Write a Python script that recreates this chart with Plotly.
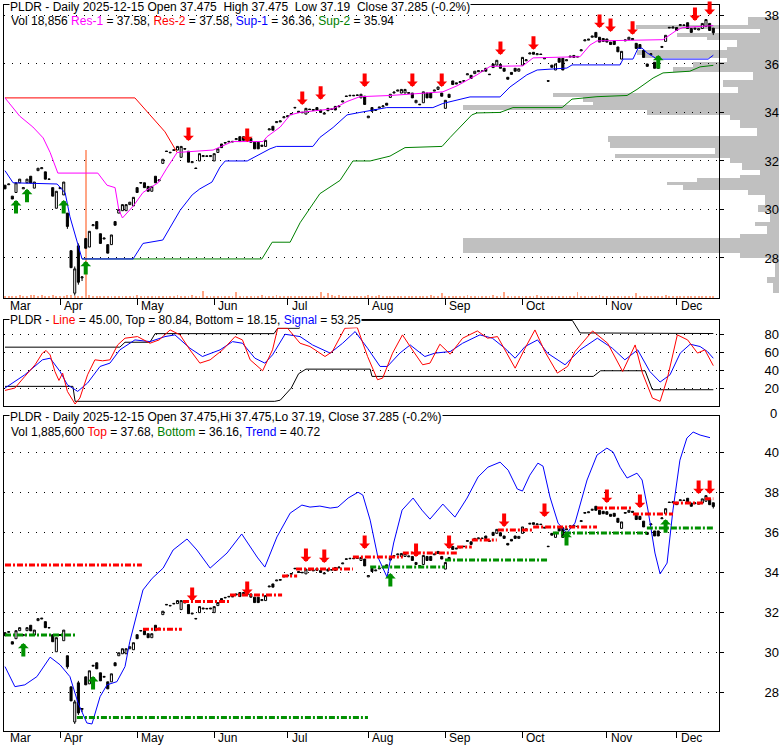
import plotly.graph_objects as go
import pandas as pd

# ---------------- data ----------------
holidays = ["2025-04-18", "2025-05-26", "2025-06-19", "2025-07-04", "2025-09-01", "2025-11-27"]
dates = [d for d in pd.bdate_range("2025-03-11", "2025-12-15") if d.strftime("%Y-%m-%d") not in holidays]
n = len(dates)
idx = list(range(n))
month_names = ["Mar", "Apr", "May", "Jun", "Jul", "Aug", "Sep", "Oct", "Nov", "Dec"]

opens = [
    31.00, 31.02, 30.55, 30.70, 31.10, 30.85, 31.10, 31.37, 30.88, 31.60,
    31.68, 31.55, 31.26, 30.90, 30.05, 30.86, 30.60, 29.85, 28.30, 26.55,
    28.50, 27.18, 28.80, 28.45, 29.33, 29.50, 29.00, 28.78, 28.55, 28.55,
    29.50, 29.85, 29.95, 29.95, 30.20, 30.15, 30.90, 31.11, 31.10, 30.95,
    30.75, 31.37, 31.18, 31.90, 32.41, 32.36, 32.46, 32.45, 32.15, 32.51,
    32.40, 31.93, 31.71, 32.00, 32.18, 32.21, 32.18, 32.00, 32.35, 32.70,
    32.76, 32.81, 32.81, 32.88, 33.00, 33.00, 32.95, 32.93, 32.77, 32.77,
    32.60, 32.60, 33.28, 33.43, 33.58, 33.61, 33.78, 33.82, 33.91, 34.21,
    34.05, 34.01, 33.93, 34.14, 34.08, 34.20, 34.10, 33.93, 34.17, 34.12,
    34.25, 34.23, 34.43, 34.68, 34.71, 34.71, 34.70, 34.60, 34.67, 33.78,
    34.20, 34.08, 34.18, 34.23, 34.38, 34.62, 34.80, 34.88, 34.80, 34.80,
    34.78, 34.80, 34.40, 34.34, 34.40, 34.80, 34.80, 34.88, 34.95, 34.80,
    34.17, 34.75, 35.30, 35.22, 35.23, 35.31, 35.55, 35.53, 35.60, 35.68,
    35.69, 35.82, 35.58, 36.00, 35.95, 35.98, 35.82, 35.45, 35.65, 35.82,
    35.70, 35.95, 36.13, 36.41, 36.48, 36.38, 36.41, 36.21, 35.31, 35.95,
    35.75, 36.23, 36.23, 36.13, 36.28, 36.35, 36.31, 36.54, 36.95, 36.98,
    37.10, 37.30, 37.10, 37.05, 37.03, 36.90, 36.95, 36.70, 36.20, 36.95,
    37.00, 37.05, 36.85, 36.80, 36.56, 36.00, 36.38, 36.07, 36.07, 36.68,
    36.93, 37.51, 37.48, 37.50, 37.58, 37.61, 37.70, 37.46, 37.43, 37.40,
    37.46, 37.55, 37.67, 37.475]
closes = [
    30.85, 31.05, 30.43, 31.10, 31.25, 30.90, 31.25, 31.09, 31.13, 31.70,
    31.72, 31.25, 31.24, 30.55, 30.75, 30.90, 31.13, 29.30, 27.60, 27.55,
    27.00, 27.22, 28.40, 29.10, 29.37, 29.20, 28.60, 28.82, 28.20, 28.95,
    29.35, 30.00, 30.20, 30.20, 30.30, 30.50, 30.70, 31.09, 30.90, 30.75,
    30.95, 31.10, 31.22, 32.07, 32.39, 32.34, 32.44, 32.60, 32.60, 32.49,
    31.95, 31.97, 31.69, 32.30, 32.22, 32.19, 32.22, 32.30, 32.50, 32.55,
    32.74, 32.79, 32.79, 32.92, 32.80, 32.85, 32.90, 32.77, 32.50, 32.50,
    32.65, 32.85, 33.32, 33.27, 33.62, 33.65, 33.82, 33.86, 33.95, 34.19,
    34.00, 33.99, 34.17, 34.12, 34.12, 34.10, 34.00, 33.97, 34.07, 34.14,
    34.10, 34.27, 34.47, 34.66, 34.69, 34.69, 34.72, 34.75, 34.33, 33.85,
    34.05, 34.12, 34.22, 34.27, 34.30, 34.75, 34.84, 34.92, 34.95, 34.95,
    34.82, 34.60, 34.50, 34.32, 34.85, 34.60, 34.60, 34.92, 35.05, 34.67,
    34.50, 34.62, 35.15, 35.18, 35.27, 35.29, 35.59, 35.40, 35.70, 35.72,
    35.71, 35.70, 35.56, 35.85, 36.15, 35.82, 35.70, 35.37, 35.57, 35.70,
    35.80, 36.27, 36.17, 36.45, 36.40, 36.42, 36.39, 36.25, 35.29, 35.86,
    36.00, 36.07, 35.75, 36.17, 36.32, 36.27, 36.29, 36.58, 36.99, 37.02,
    37.15, 37.10, 36.90, 36.93, 36.90, 36.80, 36.80, 36.50, 36.52, 36.99,
    37.10, 37.00, 36.64, 36.64, 36.27, 35.90, 36.42, 35.82, 35.82, 36.72,
    37.18, 37.49, 37.52, 37.38, 37.62, 37.59, 37.46, 37.30, 37.47, 37.45,
    37.67, 37.83, 37.38, 37.285]
wick_low = {17: 29.20, 19: 26.45, 20: 26.90, 21: 27.05, 193: 37.19}
wick_high = {19: 27.65, 20: 28.60}
highs = [wick_high.get(i, max(o, c)) for i, (o, c) in enumerate(zip(opens, closes))]
lows = [wick_low.get(i, min(o, c)) for i, (o, c) in enumerate(zip(opens, closes))]

volume = [
    22, 20, 20, 22, 30, 20, 18, 30, 35, 18,
    30, 22, 20, 35, 18, 20, 22, 28, 30, 25,
    22, 18, 1480, 30, 18, 22, 20, 18, 22, 20,
    18, 22, 20, 18, 22, 25, 30, 22, 18, 20,
    22, 18, 20, 20, 22, 25, 20, 30, 22, 18,
    22, 35, 20, 22, 68, 25, 20, 18, 22, 20,
    20, 18, 22, 58, 20, 22, 18, 20, 22, 20,
    30, 20, 22, 18, 35, 22, 20, 18, 22, 20,
    18, 20, 22, 20, 18, 25, 58, 20, 50, 30,
    22, 35, 20, 18, 22, 20, 18, 22, 20, 30,
    22, 18, 30, 20, 18, 22, 20, 18, 22, 20,
    18, 22, 20, 22, 18, 22, 30, 20, 18, 50,
    22, 18, 20, 22, 18, 20, 30, 18, 20, 22,
    18, 22, 20, 30, 20, 22, 60, 20, 18, 22,
    20, 18, 22, 20, 18, 30, 20, 18, 22, 20,
    18, 20, 22, 18, 20, 22, 60, 20, 18, 22,
    20, 18, 30, 20, 18, 22, 20, 18, 22, 20,
    18, 22, 50, 20, 18, 22, 20, 18, 22, 20,
    30, 22, 18, 20, 22, 20, 18, 22, 20, 18,
    22, 25, 20, 18]

# Resistance / support lines (vertices: day index, price)
res1_x = [0, 4, 7.6, 10.4, 12.3, 14.4, 25.3, 27.8, 30, 31, 32, 35, 37.6, 41.7, 44.1, 46.9, 56.7, 62, 70.3,
          71.4, 75, 77.7, 80.4, 89.4, 93.2, 96.7, 105, 119.3, 123.2, 128.6, 132.2, 141.1, 143.9, 156.7,
          159.4, 161.3, 179.3, 183.1, 184.7, 193]
res1_y = [34.6, 33.85, 33.4, 32.95, 32.35, 31.5, 31.5, 31.0, 30.9, 30.0, 29.65, 30.15, 30.7, 31.1, 31.7, 32.35,
          32.45, 32.8, 32.8, 33.0, 33.4, 33.9, 34.0, 34.15, 34.45, 34.65, 34.7, 34.85, 35.1, 35.55, 35.9,
          35.92, 36.25, 36.3, 36.78, 36.95, 37.0, 37.4, 37.5, 37.58]
res2_x = [0, 35.4, 39.5, 43.6, 46.9]
res2_y = [34.6, 34.6, 33.9, 33.2, 32.35]
sup1_x = [0, 2.2, 14.2, 15, 16.4, 17.7, 19.6, 21, 34.9, 37.6, 43, 45, 47.7, 51, 53.1, 56.4, 58.6, 60, 66,
          72.2, 74, 83.9, 85.8, 89.4, 93.2, 96.7, 104, 116.6, 119.3, 126.7, 134.9, 137.6, 142.2, 145, 153.1,
          154.5, 167.6, 168.4, 171.1, 172.5, 173.6, 175, 177.7, 191.6, 193]
sup1_y = [31.6, 31.1, 31.05, 30.92, 30.68, 29.7, 28.75, 27.96, 27.96, 28.6, 28.74, 29.24, 29.96, 30.6, 30.85,
          31.13, 31.75, 32.0, 32.0, 32.5, 32.6, 32.6, 32.97, 33.38, 33.9, 34.0, 34.2, 34.2, 34.37, 34.64,
          34.64, 35.05, 35.55, 35.75, 35.83, 35.96, 35.96, 36.2, 36.2, 36.65, 36.65, 36.45, 36.2, 36.2, 36.36]
sup2_x = [21, 70, 72.8, 77.7, 80.4, 85.8, 91.3, 94.8, 99.5, 102.2, 104.9, 109, 119.1, 121.3, 127.2, 128.6,
          134.9, 138.4, 151.8, 154.5, 161.3, 169.5, 172.2, 176.6, 179.3, 186.6, 189.4, 193]
sup2_y = [27.96, 27.96, 28.65, 28.65, 29.45, 30.65, 31.2, 32.0, 32.0, 32.1, 32.2, 32.55, 32.6, 32.97, 33.9,
          33.98, 34.0, 34.2, 34.2, 34.55, 34.65, 34.7, 34.95, 35.42, 35.63, 35.7, 35.88, 35.94]

# arrows (day index, tip price)
top_down_i = [50, 66, 81, 86, 98, 111, 119, 135, 144, 162, 165, 171, 188, 192]
top_down_p = [32.82, 32.78, 34.31, 34.52, 35.05, 35.05, 35.05, 36.37, 36.58, 37.48, 37.32, 37.2, 37.77, 38.02]
top_up_i = [3, 6, 16, 22, 178]
top_up_p = [30.39, 30.85, 30.39, 27.88, 36.37]

# volume-at-price profile (price band low, high, relative volume)
prof_lo = [37.73, 37.61, 37.44, 37.28, 37.11, 36.99, 36.70, 36.58, 36.37, 36.25, 36.08, 35.88, 35.67, 35.34,
           35.05, 34.80, 34.64, 34.43, 34.31, 34.10, 33.90, 33.69, 33.36, 33.03, 32.78, 32.54, 32.29, 32.12,
           31.92, 31.63, 31.42, 31.30, 31.13, 31.01, 30.80, 30.60, 30.19, 29.90, 29.48, 29.32, 28.99, 28.82,
           28.21, 28.00, 27.84, 27.22, 26.97, 26.56]
prof_hi = [37.94, 37.73, 37.61, 37.44, 37.28, 37.11, 36.99, 36.70, 36.58, 36.37, 36.25, 36.08, 35.88, 35.67,
           35.34, 35.05, 34.80, 34.64, 34.43, 34.31, 34.10, 33.90, 33.69, 33.36, 33.03, 32.78, 32.54, 32.29,
           32.12, 31.92, 31.63, 31.42, 31.30, 31.13, 31.01, 30.80, 30.60, 30.19, 29.90, 29.48, 29.32, 28.99,
           28.82, 28.21, 28.00, 27.84, 27.22, 26.97]
prof_vol = [31, 31, 143, 19, 102, 72, 42, 52, 142, 137, 52, 86, 106, 26, 56, 41, 226, 196, 186, 316, 132,
            49, 39, 22, 171, 169, 64, 164, 49, 37, 19, 39, 82, 112, 96, 31, 14, 21, 9, 24, 12, 39, 316, 39,
            9, 4, 12, 6]

# oscillator panel
osc_line_x = [0, 2.7, 5.4, 8.2, 10.2, 11.2, 12.3, 13.6, 14.7, 15.7, 17, 19.1, 20.4, 22.5, 24.5, 26.6, 28.6,
              30.7, 32.7, 36.1, 39.5, 42, 45, 47.7, 50.4, 53.1, 55.9, 59.3, 62.7, 64.7, 66.8, 70.2, 72.9,
              74.3, 77, 80.4, 83.1, 87.2, 89.2, 92.6, 96, 98.8, 101.5, 102.9, 105.6, 108.3, 111, 113.8,
              115.8, 118.5, 121.3, 124.7, 128.7, 131.5, 134.2, 139, 141.7, 144.4, 147.1, 150.5, 153.3,
              155.3, 160.1, 164.2, 168.3, 171.7, 173.7, 176.4, 178.5, 180.5, 183.2, 186, 188.7, 190.7, 193]
osc_line_y = [17.4, 20, 33, 46, 59, 61.9, 57, 38.5, 28.5, 36.7, 16.3, 2.2, 8.9, 34.8, 51.5, 50.4, 51.5, 68.1,
              75.6, 77.4, 70, 73.7, 84.8, 79.3, 62.6, 47.8, 51.5, 62.6, 77.4, 73.7, 51.5, 39.3, 62.6, 86.7,
              86.7, 70, 66.3, 55.2, 60.7, 86.7, 87.4, 55.2, 29.3, 31.1, 58.9, 79.3, 62.6, 46, 47.8, 68.9,
              57.8, 75.6, 83.7, 75.6, 77.4, 42.2, 64.4, 84.8, 60.7, 36.7, 44.1, 60.7, 83.7, 70, 38.5, 68.1,
              36.7, 8.9, 5.2, 31.1, 79.3, 73.7, 59, 62.6, 45.0]
osc_sig_x = [0, 5.4, 10.2, 12.3, 15, 17, 19.8, 22.5, 25.9, 28.6, 31.3, 35.4, 39.5, 43.6, 46.3, 50.4, 53.8,
             58.6, 62, 64.7, 68.1, 70.8, 72.9, 76.3, 80.4, 83.8, 88.6, 92, 95.4, 98.8, 102.2, 104.2, 107.6,
             110.4, 114.4, 117.2, 121.3, 124.7, 129.4, 132.8, 136.2, 139, 141.7, 145.1, 147.8, 152.6, 156.7,
             161.4, 165.5, 168.9, 172.4, 175.7, 178.5, 181.2, 184, 186.7, 189.4, 191.4, 193]
osc_sig_y = [20, 34.8, 51.5, 53.3, 38.5, 23.7, 16.3, 25.6, 44.1, 47.8, 62.6, 73.7, 71.8, 77.4, 79.3, 64.4,
             55.2, 62.6, 71.8, 70, 53.3, 47.8, 57, 80, 77.4, 68.1, 59, 70, 83, 64.4, 44.1, 44.1, 59, 68.1,
             55.2, 59, 60.7, 70, 79.3, 75.6, 64.4, 53.3, 66.3, 73.7, 59, 46, 62.6, 75.6, 64.4, 51.5, 62.6,
             38.5, 26.7, 34.8, 59, 68.9, 66.3, 60.7, 53.25]
osc_top_x = [0, 31.3, 32.7, 39.5, 40.9, 73.3, 74.3, 80.2, 80.6, 154.6, 156.7, 174.4, 175.2, 193]
osc_top_y = [65.6, 65.6, 71.1, 71.1, 80.7, 80.7, 86.7, 86.7, 95.4, 95.4, 81.5, 81.5, 80.84, 80.84]
osc_bot_x = [0, 18.5, 19.1, 73.5, 75, 78, 80, 82, 99.5, 100, 160.3, 162.3, 174.4, 176.4, 193]
osc_bot_y = [21.9, 21.9, 5.2, 5.2, 6.5, 20, 36, 41.1, 41.1, 33, 33, 39.3, 39.3, 18.15, 18.15]

# lower panel: trend line and top / bottom levels
trend_x = [0, 2.7, 5.4, 8.7, 12.3, 15, 17.7, 19.9, 22.3, 23.7, 25.9, 27.8, 30.5, 32.7, 34, 36, 37.6, 40.1,
           43.1, 45.8, 49.6, 52.3, 55.9, 60.5, 64.5, 68.7, 70.8, 74.1, 77.7, 80.9, 83.1, 85.8, 88.6, 90.7,
           93.5, 96.2, 97.5, 99.5, 101.6, 104.1, 105.9, 108.2, 111.2, 113.6, 115.8, 119.3, 122.6, 125.9,
           128.9, 131.6, 134.9, 137.1, 139.6, 141, 143, 145.2, 146.6, 148.5, 150.7, 153.1, 155.3, 158.6,
           161.3, 164, 165.7, 167.6, 169.5, 172.2, 173.6, 175.2, 177.1, 178.5, 180.4, 182, 183.9, 185.8,
           187.5, 189.4, 192.1]
trend_y = [29.31, 28.31, 28.4, 28.81, 29.78, 29.4, 28.81, 27.5, 26.5, 26.45, 27.81, 28.4, 28.56, 29.31,
           30.55, 31.97, 33.13, 33.71, 34.22, 35.12, 35.67, 35.12, 34.22, 34.97, 35.92, 34.77, 34.27, 35.77,
           36.96, 37.36, 37.26, 37.31, 37.21, 37.26, 37.71, 38.0, 37.86, 36.61, 34.77, 33.77, 35.47, 37.11,
           37.71, 37.11, 36.66, 37.41, 36.76, 37.71, 38.76, 39.25, 39.5, 39.1, 38.16, 38.06, 38.85, 39.45,
           39.3, 37.76, 36.46, 35.97, 36.46, 38.61, 39.85, 40.2, 40.0, 39.25, 38.71, 38.95, 38.61, 37.11,
           34.97, 33.93, 34.47, 37.11, 39.6, 40.7, 41.0, 40.85, 40.72]
top_start = [0, 37.6, 48.5, 61.3, 75.5, 79.3, 94.8, 108.4, 123.2, 127.2, 134.3, 143.9, 161.3, 171.1, 182, 190.7]
top_end = [37.3, 48.2, 61.3, 75.5, 79.6, 94.8, 108.4, 123.2, 127.2, 134, 143.9, 161.3, 171.1, 182, 190.7, 193]
top_level = [34.37, 31.17, 32.55, 32.88, 33.82, 34.17, 34.77, 34.97, 35.27, 35.62, 36.12, 36.27, 37.21,
             36.91, 37.46, 37.68]
bot_start = [0, 19.6, 99.5, 119.9, 149.3, 174.9]
bot_end = [19.6, 98.9, 119.9, 148, 174.9, 193]
bot_level = [30.89, 26.77, 34.27, 34.62, 35.97, 36.22]
bot_down_i = [51, 66, 82, 87, 98, 112, 121, 136, 147, 164, 173, 189, 192]
bot_down_p = [32.58, 32.88, 34.52, 34.47, 35.17, 34.77, 35.17, 36.27, 36.76, 37.46, 37.21, 37.91, 37.91]
bot_up_i = [5, 24, 105, 153, 180]
bot_up_p = [30.49, 28.84, 33.97, 36.02, 36.66]

# ---------------- layout helpers ----------------
W, H = 780, 745
ML, MR = 4, 1
PW = W - ML - MR


def xp(px):
    return (px - ML) / PW


def yp(py):
    return 1 - py / H


FONT = "Liberation Sans, Arial, sans-serif"
XR = [-0.27, n + 0.55]
XDOM = [0, xp(719)]
P1 = [yp(298), yp(5)]
P2 = [yp(406), yp(320)]
P3 = [yp(731), yp(416)]
R1 = [26.35, 38.43]
R2 = [0, 95.9]
R3 = [26.1, 41.8]
GRID = dict(showgrid=True, gridcolor="black", gridwidth=1, griddash="1px,7px")

month_start = []
prev = None
for i, d in enumerate(dates):
    if d.month != prev:
        month_start.append(i)
        prev = d.month

MAG, RED, BLUE, GREEN = "#FF00FF", "#FF0000", "#0000FF", "#008000"

fig = go.Figure()

# volume profile (drawn first, underneath)
fig.add_trace(go.Bar(
    y=[(a + b) / 2 for a, b in zip(prof_lo, prof_hi)], x=prof_vol,
    width=[b - a for a, b in zip(prof_lo, prof_hi)], orientation="h",
    marker=dict(color="#C0C0C0", line=dict(width=0)), xaxis="x", yaxis="y",
    hoverinfo="skip", showlegend=False))

# volume bars
fig.add_trace(go.Bar(x=idx, y=volume, width=0.5, marker=dict(color="#FFA585", line=dict(width=0)),
                     xaxis="x2", yaxis="y2", hoverinfo="skip", showlegend=False))

candle_style = dict(increasing=dict(line=dict(color="black", width=1), fillcolor="white"),
                    decreasing=dict(line=dict(color="black", width=1), fillcolor="black"),
                    whiskerwidth=0, showlegend=False, hoverinfo="skip")


def line(x, y, color, xa, ya, width=1, dash=None):
    fig.add_trace(go.Scatter(x=x, y=y, mode="lines", line=dict(color=color, width=width, dash=dash),
                             xaxis=xa, yaxis=ya, hoverinfo="skip", showlegend=False))


# top panel
line(res2_x, res2_y, RED, "x2", "y3")
line(sup2_x, sup2_y, GREEN, "x2", "y3")
line(sup1_x, sup1_y, BLUE, "x2", "y3")
line(res1_x, res1_y, MAG, "x2", "y3")
fig.add_trace(go.Candlestick(x=idx, open=opens, high=highs, low=lows, close=closes,
                             xaxis="x2", yaxis="y3", **candle_style))

# middle panel
line(osc_top_x, osc_top_y, "black", "x3", "y4")
line(osc_bot_x, osc_bot_y, "black", "x3", "y4")
line(osc_sig_x, osc_sig_y, BLUE, "x3", "y4")
line(osc_line_x, osc_line_y, RED, "x3", "y4")

# bottom panel
line(trend_x, trend_y, BLUE, "x4", "y5")
DASH = "6px,2px,2px,2px"
sx, sy = [], []
for a, b, v in zip(top_start, top_end, top_level):
    sx += [a, b, None]
    sy += [v, v, None]
line(sx, sy, RED, "x4", "y5", width=3, dash=DASH)
gx, gy = [], []
for a, b, v in zip(bot_start, bot_end, bot_level):
    gx += [a, b, None]
    gy += [v, v, None]
line(gx, gy, "#009000", "x4", "y5", width=3, dash=DASH)
fig.add_trace(go.Candlestick(x=idx, open=opens, high=highs, low=lows, close=closes,
                             xaxis="x4", yaxis="y5", **candle_style))

annotations = []


def arrow(i, p, up, xa, ya):
    annotations.append(dict(x=i, y=p, xref=xa, yref=ya, text="", showarrow=True, arrowhead=1,
                            arrowsize=0.45, arrowwidth=4, arrowcolor="#009000" if up else RED,
                            ax=0, ay=15 if up else -15, standoff=0))


for i, p in zip(top_down_i, top_down_p):
    arrow(i, p, False, "x2", "y3")
for i, p in zip(top_up_i, top_up_p):
    arrow(i, p, True, "x2", "y3")
for i, p in zip(bot_down_i, bot_down_p):
    arrow(i, p, False, "x4", "y5")
for i, p in zip(bot_up_i, bot_up_p):
    arrow(i, p, True, "x4", "y5")


def text(x_px, y_px, s, bg=None, size=12, anchor="left"):
    d = dict(x=xp(x_px), y=yp(y_px), xref="paper", yref="paper", text=s, showarrow=False,
             xanchor=anchor, yanchor="middle", font=dict(family=FONT, size=size, color="black"),
             borderpad=0)
    if bg:
        d["bgcolor"] = bg
    annotations.append(d)


def c(s, col):
    return f"<span style='color:{col}'>{s}</span>"


sp = "\u00a0"
text(9, 7, f"PLDR - Daily 2025-12-15 Open 37.475{sp}{sp}High 37.475{sp}{sp}Low 37.19{sp}{sp}Close 37.285 (-0.2%)",
     bg="white")
text(10, 21, f"Vol 18,856 {c('Res-1', MAG)} = 37.58, {c('Res-2', RED)} = 37.58, {c('Sup-1', BLUE)} = 36.36, "
             f"{c('Sup-2', GREEN)} = 35.94")
text(9, 320, f"PLDR - {c('Line', RED)} = 45.00, Top = 80.84, Bottom = 18.15, {c('Signal', BLUE)} = 53.25",
     bg="white")
text(9, 417, "PLDR - Daily 2025-12-15 Open 37.475,Hi 37.475,Lo 37.19, Close 37.285 (-0.2%)", bg="white")
text(10, 432, f"Vol 1,885,600 {c('Top', RED)} = 37.68, {c('Bottom', GREEN)} = 36.16, {c('Trend', BLUE)} = 40.72")
text(778, 413, "0", size=13, anchor="right")

# month labels
for k, m in enumerate(month_names):
    for xa, ypx in (("x2", 306), ("x4", 738)):
        xi = month_start[k] if k > 0 else XR[0]
        annotations.append(dict(x=xi, y=yp(ypx), xref=xa, yref="paper", text=m, showarrow=False,
                                xanchor="left", yanchor="middle", xshift=2 if k > 0 else 4,
                                font=dict(family=FONT, size=12, color="black")))

xcommon = dict(domain=XDOM, range=XR, showline=True, linecolor="black", linewidth=1, mirror=True,
               showgrid=False, zeroline=False, showticklabels=False, fixedrange=True)
ycommon = dict(side="right", showline=True, linecolor="black", linewidth=1, mirror=True, zeroline=False,
               ticks="outside", ticklen=4, tickcolor="black", ticklabelstandoff=38,
               tickfont=dict(family=FONT, size=13, color="black"), fixedrange=True, **GRID)

fig.update_layout(
    width=W, height=H, margin=dict(l=ML, r=MR, t=0, b=0), paper_bgcolor="white",
    plot_bgcolor="rgba(0,0,0,0)",
    showlegend=False, boxgap=0.2, bargap=0,
    xaxis=dict(domain=[0, 1], range=[PW, 0], anchor="y", visible=False, fixedrange=True),
    yaxis=dict(domain=P1, range=R1, anchor="x", visible=False, fixedrange=True),
    xaxis2=dict(anchor="y2", ticks="outside", ticklen=6, tickcolor="black", tickvals=month_start[1:],
                rangeslider=dict(visible=False), **xcommon),
    yaxis2=dict(domain=P1, range=[0, 2930], anchor="x2", visible=False, fixedrange=True),
    yaxis3=dict(overlaying="y2", anchor="x2", range=R1, tickvals=[28, 30, 32, 34, 36, 38], **ycommon),
    xaxis3=dict(anchor="y4", ticks="", **xcommon),
    yaxis4=dict(domain=P2, anchor="x3", range=R2, tickvals=[20, 40, 60, 80], **ycommon),
    xaxis4=dict(anchor="y5", ticks="outside", ticklen=6, tickcolor="black", tickvals=month_start[1:],
                rangeslider=dict(visible=False), **xcommon),
    yaxis5=dict(domain=P3, anchor="x4", range=R3, tickvals=[28, 30, 32, 34, 36, 38, 40], **ycommon),
    annotations=annotations,
)

fig.write_html("out.html", config={"displayModeBar": False, "staticPlot": True},
               post_script="document.body.style.margin='0px';")
